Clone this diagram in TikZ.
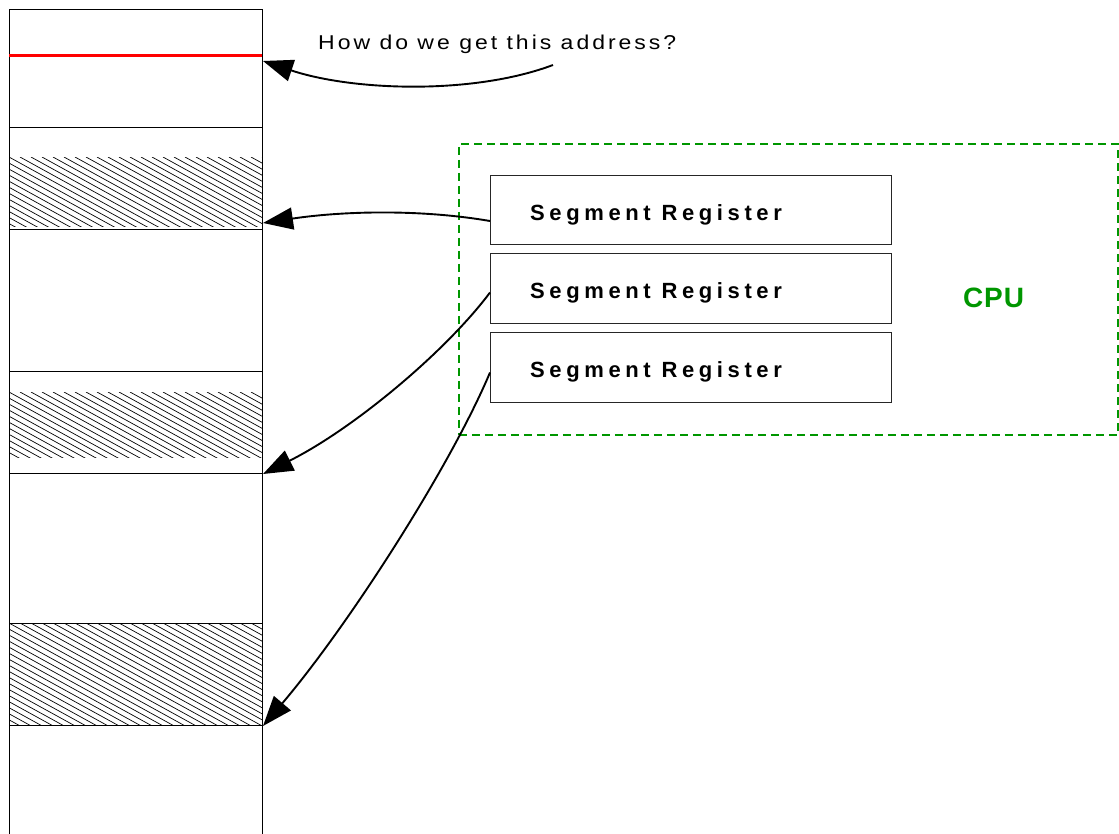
\documentclass[tikz,border=0pt]{standalone}
\usepackage{fontspec}
\setmainfont{Liberation Sans}
\newfontfamily\regfont{Liberation Sans}[LetterSpace=21]
\newfontfamily\askfont{Liberation Sans}[LetterSpace=13]
\newfontfamily\cpufont{Liberation Sans}[LetterSpace=3]
\usetikzlibrary{arrows.meta}
\definecolor{cpugreen}{RGB}{0,150,0}
\tikzset{
  memcol/.style={draw, line width=1pt, anchor=north west, inner sep=0pt, minimum width=253pt, minimum height=830pt},
  segbox/.style={draw, line width=1pt, anchor=north west, inner sep=0pt, minimum width=253pt},
  regbox/.style={draw=black!85, line width=1pt, anchor=north west, inner sep=0pt, minimum width=401pt, minimum height=70pt},
  cpubox/.style={draw=cpugreen, line width=1.8pt, dash pattern=on 8pt off 5pt, anchor=north west, inner sep=0pt, minimum width=659pt, minimum height=291pt},
  reglabel/.style={anchor=base west, inner sep=0pt, font=\regfont\bfseries\fontsize{22}{26}\selectfont},
  asklabel/.style={anchor=base west, inner sep=0pt, font=\askfont\fontsize{20}{24}\selectfont},
  cpulabel/.style={anchor=base west, inner sep=0pt, text=cpugreen, font=\cpufont\bfseries\fontsize{28}{32}\selectfont},
  conn/.style={line width=1.9pt, -{Triangle[length=30pt,width=22pt]}},
  hatchline/.style={line width=0.7pt},
  addrline/.style={red, line width=3.5pt}
}
\begin{document}
\begin{tikzpicture}[x=1pt,y=-1pt]
\useasboundingbox (0,0) rectangle (1119,833);
% memory column
\node[memcol] (mem) at (9,9) {};
% hatching
\begin{scope}
  \clip (9,157) rectangle (262,226);
  \foreach \i in {-17,...,24} \draw[hatchline] (9+\i*11,157) -- ++(330,181.5);
\end{scope}
\begin{scope}
  \clip (9,392) rectangle (262,457);
  \foreach \i in {-17,...,24} \draw[hatchline] (9+\i*11,392) -- ++(330,181.5);
\end{scope}
\begin{scope}
  \clip (9,623) rectangle (262,725);
  \foreach \i in {-20,...,24} \draw[hatchline] (9+\i*11,623) -- ++(330,181.5);
\end{scope}
% segments
\node[segbox, minimum height=102pt] (seg1) at (9,127) {};
\node[segbox, minimum height=102pt] (seg2) at (9,371) {};
\node[segbox, minimum height=102pt] (seg3) at (9,623) {};
% red address line
\coordinate (redL) at (9,55.5);
\coordinate (redR) at (262,55.5);
\draw[addrline] (redL) -- (redR);
% CPU
\node[cpubox] (cpu) at (458,143) {};
\node[regbox, minimum height=69pt] (reg1) at (490,175) {};
\node[regbox] (reg2) at (490,253) {};
\node[regbox] (reg3) at (490,332) {};
\node[reglabel] (t1) at (530,220) {Segment Register};
\node[reglabel] (t2) at (530,298) {Segment Register};
\node[reglabel] (t3) at (530,377) {Segment Register};
\node[cpulabel] (cpul) at (963,307) {CPU};
% question
\node[asklabel] (ask) at (318,49) {\scalebox{1.15}[1]{How do we get this address?}};
\coordinate (askstart) at (553,65);
\coordinate (addr) at (263,61);
% connectors
\draw[conn] (askstart) .. controls +(-80,30) and +(90,30) .. (addr);
\draw[conn] ([yshift=-11pt]reg1.west) .. controls +(-70,-12) and +(80,-12) .. ([yshift=7pt]seg1.south east);
\draw[conn] ([yshift=-4pt]reg2.west) .. controls +(-45,60) and +(90,-45) .. (seg2.south east);
\draw[conn] ([yshift=-5pt]reg3.west) .. controls +(-40,95) and +(85,-100) .. (seg3.south east);
\end{tikzpicture}
\end{document}
